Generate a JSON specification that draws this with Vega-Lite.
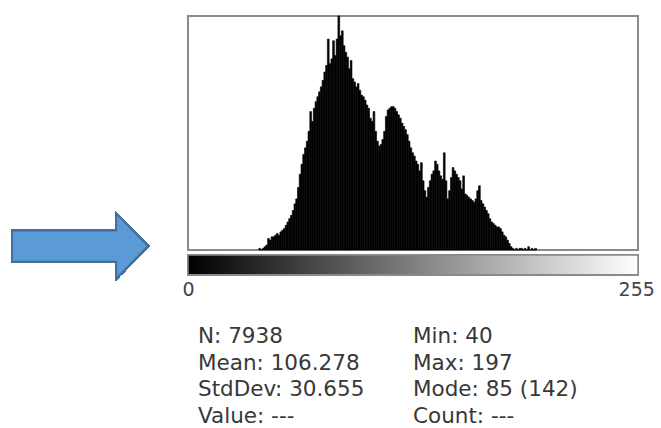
{
  "$schema": "https://vega.github.io/schema/vega-lite/v6.json",
  "width": 450,
  "height": 234,
  "autosize": {"type": "none"},
  "padding": {"left": 188, "top": 16, "right": 23, "bottom": 178},
  "background": "white",
  "config": {
    "view": {"stroke": "#8a8a8a", "strokeWidth": 2},
    "font": "DejaVu Sans"
  },
  "datasets": {
    "hist": [
      {"v":40,"n":1},{"v":41,"n":0},{"v":42,"n":1},{"v":43,"n":2},{"v":44,"n":3},{"v":45,"n":7},{"v":46,"n":6},{"v":47,"n":8},{"v":48,"n":8},{"v":49,"n":9},
      {"v":50,"n":10},{"v":51,"n":9},{"v":52,"n":11},{"v":53,"n":12},{"v":54,"n":13},{"v":55,"n":15},{"v":56,"n":17},{"v":57,"n":19},{"v":58,"n":21},{"v":59,"n":24},
      {"v":60,"n":28},{"v":61,"n":31},{"v":62,"n":38},{"v":63,"n":46},{"v":64,"n":52},{"v":65,"n":58},{"v":66,"n":62},{"v":67,"n":66},{"v":68,"n":72},{"v":69,"n":84},
      {"v":70,"n":78},{"v":71,"n":86},{"v":72,"n":90},{"v":73,"n":93},{"v":74,"n":96},{"v":75,"n":99},{"v":76,"n":103},{"v":77,"n":108},{"v":78,"n":112},{"v":79,"n":128},
      {"v":80,"n":113},{"v":81,"n":116},{"v":82,"n":127},{"v":83,"n":118},{"v":84,"n":128},{"v":85,"n":142},{"v":86,"n":130},{"v":87,"n":133},{"v":88,"n":124},{"v":89,"n":120},
      {"v":90,"n":117},{"v":91,"n":110},{"v":92,"n":115},{"v":93,"n":104},{"v":94,"n":102},{"v":95,"n":99},{"v":96,"n":101},{"v":97,"n":97},{"v":98,"n":94},{"v":99,"n":93},
      {"v":100,"n":91},{"v":101,"n":88},{"v":102,"n":86},{"v":103,"n":80},{"v":104,"n":78},{"v":105,"n":84},{"v":106,"n":72},{"v":107,"n":66},{"v":108,"n":63},{"v":109,"n":64},
      {"v":110,"n":67},{"v":111,"n":72},{"v":112,"n":81},{"v":113,"n":85},{"v":114,"n":86},{"v":115,"n":87},{"v":116,"n":87},{"v":117,"n":86},{"v":118,"n":84},{"v":119,"n":82},
      {"v":120,"n":80},{"v":121,"n":77},{"v":122,"n":75},{"v":123,"n":73},{"v":124,"n":70},{"v":125,"n":66},{"v":126,"n":62},{"v":127,"n":59},{"v":128,"n":57},{"v":129,"n":54},
      {"v":130,"n":52},{"v":131,"n":48},{"v":132,"n":53},{"v":133,"n":42},{"v":134,"n":36},{"v":135,"n":32},{"v":136,"n":38},{"v":137,"n":42},{"v":138,"n":46},{"v":139,"n":48},
      {"v":140,"n":54},{"v":141,"n":52},{"v":142,"n":48},{"v":143,"n":45},{"v":144,"n":43},{"v":145,"n":59},{"v":146,"n":42},{"v":147,"n":31},{"v":148,"n":36},{"v":149,"n":44},
      {"v":150,"n":50},{"v":151,"n":48},{"v":152,"n":46},{"v":153,"n":44},{"v":154,"n":42},{"v":155,"n":37},{"v":156,"n":45},{"v":157,"n":34},{"v":158,"n":33},{"v":159,"n":32},
      {"v":160,"n":31},{"v":161,"n":30},{"v":162,"n":29},{"v":163,"n":31},{"v":164,"n":36},{"v":165,"n":39},{"v":166,"n":30},{"v":167,"n":28},{"v":168,"n":26},{"v":169,"n":24},
      {"v":170,"n":22},{"v":171,"n":19},{"v":172,"n":17},{"v":173,"n":16},{"v":174,"n":15},{"v":175,"n":14},{"v":176,"n":14},{"v":177,"n":13},{"v":178,"n":11},{"v":179,"n":9},
      {"v":180,"n":8},{"v":181,"n":6},{"v":182,"n":4},{"v":183,"n":2},{"v":184,"n":1},{"v":185,"n":0},{"v":186,"n":1},{"v":187,"n":0},{"v":188,"n":1},{"v":189,"n":1},
      {"v":190,"n":0},{"v":191,"n":1},{"v":192,"n":0},{"v":193,"n":2},{"v":194,"n":0},{"v":195,"n":1},{"v":196,"n":0},{"v":197,"n":1}
    ],
    "stats": [
      {"label": "N: 7938", "col": "a", "line": 1},
      {"label": "Mean: 106.278", "col": "a", "line": 2},
      {"label": "StdDev: 30.655", "col": "a", "line": 3},
      {"label": "Value: ---", "col": "a", "line": 4},
      {"label": "Min: 40", "col": "b", "line": 1},
      {"label": "Max: 197", "col": "b", "line": 2},
      {"label": "Mode: 85 (142)", "col": "b", "line": 3},
      {"label": "Count: ---", "col": "b", "line": 4}
    ]
  },
  "resolve": {"scale": {"x": "independent", "y": "independent"}, "axis": {"x": "independent", "y": "independent"}},
  "layer": [
    {
      "data": {"name": "hist"},
      "encoding": {
        "x": {"type": "quantitative", "scale": {"domain": [0, 256], "nice": false, "zero": false}},
        "y": {"type": "quantitative", "scale": {"domain": [0, 142], "nice": false}}
      },
      "layer": [
        {
          "mark": {"type": "bar", "color": "black", "binSpacing": 0, "stroke": "black", "strokeWidth": 0.6},
          "encoding": {
            "x": {"field": "v", "type": "quantitative", "bin": {"binned": true, "step": 1},
                  "scale": {"domain": [0, 256], "nice": false, "zero": false},
                  "axis": {"values": [0, 255], "domain": false, "ticks": false, "grid": false, "title": null,
                           "labelFontSize": 19, "labelColor": "#444", "labelFont": "DejaVu Sans",
                           "offset": 28, "labelPadding": 2, "labelOverlap": false, "labelBound": false, "labelFlush": false}},
            "y": {"field": "n", "type": "quantitative", "scale": {"domain": [0, 142], "nice": false}, "axis": null}
          }
        },
        {
          "mark": {"type": "rect", "stroke": "#8a8a8a", "strokeWidth": 1.5,
                   "fill": {"gradient": "linear", "x1": 0, "y1": 0, "x2": 1, "y2": 0,
                            "stops": [{"offset": 0, "color": "#000000"}, {"offset": 1, "color": "#ffffff"}]}},
          "encoding": {
            "x": {"datum": 0, "type": "quantitative"},
            "x2": {"datum": 256},
            "y": {"datum": -3, "type": "quantitative"},
            "y2": {"datum": -15}
          }
        },
        {
          "mark": {"type": "point", "filled": true, "fill": "#5B9BD5", "stroke": "#41719C", "strokeWidth": 2, "opacity": 1, "fillOpacity": 1,
                   "shape": "M -1 -0.23 L 0.53 -0.23 L 0.53 -0.48 L 1 0 L 0.53 0.48 L 0.53 0.23 L -1 0.23 Z", "size": 18496},
          "encoding": {
            "x": {"datum": -61.4, "type": "quantitative"},
            "y": {"datum": 2.4, "type": "quantitative"}
          }
        }
      ]
    },
    {
      "data": {"name": "stats"},
      "mark": {"type": "text", "align": "left", "baseline": "middle", "fontSize": 21.5, "font": "DejaVu Sans", "color": "#383838"},
      "encoding": {
        "x": {"field": "col", "type": "nominal", "scale": {"type": "point", "range": [10, 225], "padding": 0}, "axis": null},
        "y": {"field": "line", "type": "ordinal", "scale": {"type": "point", "range": [321, 401], "padding": 0}, "axis": null},
        "text": {"field": "label"}
      }
    }
  ]
}
